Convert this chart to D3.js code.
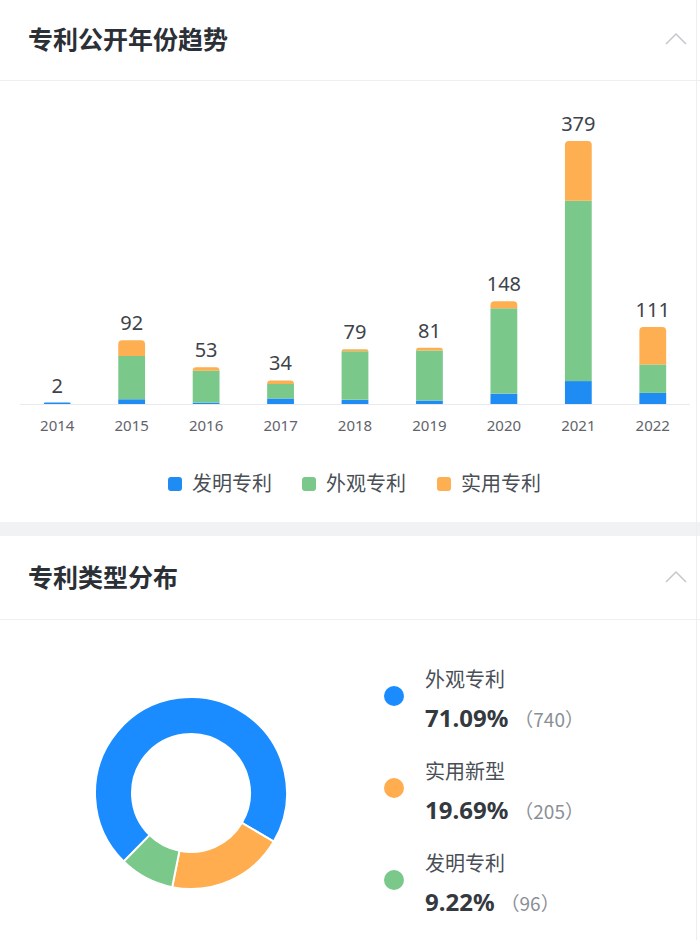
<!DOCTYPE html>
<html><head><meta charset="utf-8">
<script src="https://cdn.jsdelivr.net/npm/d3@7"></script>
<style>
html,body{margin:0;padding:0;background:#fff;}
svg{display:block;font-family:"Noto Sans CJK SC","Noto Sans",sans-serif;}
</style></head>
<body>
<svg id="chart" width="700" height="940"></svg>
<script>
// ---- data ----
const years = ['2014','2015','2016','2017','2018','2019','2020','2021','2022'];
const invention = [2,7,2,8,6,5,15,33,16];     // 发明专利
const design    = [0,62,46,21,70,72,123,260,41]; // 外观专利
const utility   = [0,23,5,5,3,4,10,86,54];    // 实用专利
const seriesNames = ['发明专利','外观专利','实用专利'];
const seriesColors = ['#1F8CF3','#7BC98A','#FDAF52'];

const pieLabels = ['外观专利','实用新型','发明专利'];
const pieCounts = [740,205,96];
const piePercents = ['71.09%','19.69%','9.22%'];
const pieColors = ['#1A8CFF','#FFAD4F','#7AC98A'];

const svg = d3.select('#chart');

// ---- section chrome ----
function header(y, text, lineY){
  svg.append('text').attr('x',28).attr('y',y).attr('font-size',25).attr('font-weight',700)
     .attr('fill','#2b2f36').text(text);
  svg.append('path').attr('d',`M666,${y-5} L676,${y-15} L686,${y-5}`)
     .attr('fill','none').attr('stroke','#c4c7cc').attr('stroke-width',1.5);
  svg.append('line').attr('x1',0).attr('x2',700).attr('y1',lineY).attr('y2',lineY)
     .attr('stroke','#eeeff1').attr('stroke-width',1);
}
header(49,'专利公开年份趋势',80.5);
svg.append('rect').attr('x',0).attr('y',522).attr('width',700).attr('height',14).attr('fill','#f1f2f4');
header(587,'专利类型分布',619.5);
svg.append('line').attr('x1',696.5).attr('x2',696.5).attr('y1',0).attr('y2',940)
   .attr('stroke','#eceef0').attr('stroke-width',1);

// ---- stacked bars ----
const rows = years.map((y,i)=>({year:y, inv:invention[i], des:design[i], uti:utility[i]}));
const keys = ['inv','des','uti'];
const stack = d3.stack().keys(keys)(rows);
const totals = rows.map(r=>r.inv+r.des+r.uti);

const x = d3.scaleBand().domain(years).range([20,690]).paddingInner(0.64).paddingOuter(0.32);
const baseY = 404;
const y = d3.scaleLinear().domain([0,d3.max(totals)]).range([baseY,141]);

function topRounded(x0,y0,w,h,r){
  r = Math.min(r,h,w/2);
  if(h<=0) return '';
  return `M${x0},${y0+h} L${x0},${y0+r} Q${x0},${y0} ${x0+r},${y0} L${x0+w-r},${y0} Q${x0+w},${y0} ${x0+w},${y0+r} L${x0+w},${y0+h} Z`;
}

svg.append('line').attr('x1',20).attr('x2',690).attr('y1',baseY+0.5).attr('y2',baseY+0.5)
   .attr('stroke','#e8eaed').attr('stroke-width',1);

stack.forEach((layer,li)=>{
  svg.append('g').selectAll('path').data(layer).join('path')
    .attr('fill',seriesColors[li])
    .attr('d',(d,i)=>{
      const x0 = x(d.data.year), w = x.bandwidth();
      const y0 = y(d[1]), h = y(d[0]) - y(d[1]);
      if(h<=0) return '';
      let isTop = true;
      for(let k=li+1;k<keys.length;k++){ if(d.data[keys[k]]>0) isTop=false; }
      return isTop ? topRounded(x0,y0,w,h,4) : `M${x0},${y0}h${w}v${h}h${-w}Z`;
    });
});

// value labels
svg.append('g').selectAll('text').data(rows).join('text')
  .attr('x',d=>x(d.year)+x.bandwidth()/2)
  .attr('y',(d,i)=>y(totals[i])-10)
  .attr('text-anchor','middle').attr('font-size',20).attr('fill','#3e434a')
  .attr('font-family','"Noto Sans",Roboto,sans-serif')
  .text((d,i)=>totals[i]);

// x axis labels
const xAxis = d3.axisBottom(x).tickSize(0).tickPadding(16);
const gx = svg.append('g').attr('transform',`translate(0,${baseY})`).call(xAxis);
gx.select('.domain').remove();
gx.selectAll('text').attr('font-size',15).attr('fill','#5f646b')
  .attr('font-family','"Noto Sans",Roboto,sans-serif');

// legend
const legX = [168,302,437];
seriesNames.forEach((n,i)=>{
  const g = svg.append('g').attr('transform',`translate(${legX[i]},484)`);
  g.append('rect').attr('x',0).attr('y',-7).attr('width',14).attr('height',14).attr('rx',3).attr('fill',seriesColors[i]);
  g.append('text').attr('x',24).attr('y',7).attr('font-size',20).attr('fill','#4a4f56').text(n);
});

// ---- donut ----
const cx = 191, cy = 793;
const pie = d3.pie().sort(null).startAngle(-135.5*Math.PI/180).endAngle((360-135.5)*Math.PI/180);
const arc = d3.arc().innerRadius(59).outerRadius(96);
svg.append('g').attr('transform',`translate(${cx},${cy})`)
  .selectAll('path').data(pie(pieCounts)).join('path')
  .attr('d',arc).attr('fill',(d,i)=>pieColors[i])
  .attr('stroke','#fff').attr('stroke-width',2);

// right legend
const legY = [680,772,864];
pieLabels.forEach((n,i)=>{
  const yy = legY[i];
  svg.append('circle').attr('cx',394).attr('cy',yy+16).attr('r',10).attr('fill',pieColors[i]);
  svg.append('text').attr('x',425).attr('y',yy+7).attr('font-size',20).attr('fill','#4a4f56').text(n);
  const t = svg.append('text').attr('x',425).attr('y',yy+47);
  t.append('tspan').attr('font-size',24).attr('font-weight',700).attr('fill','#343940')
   .attr('font-family','"Noto Sans","Noto Sans CJK SC",sans-serif').text(piePercents[i]);
  t.append('tspan').attr('dx',6).attr('font-size',19).attr('fill','#8a8f96').text('（'+pieCounts[i]+'）');
});
</script>
</body></html>
